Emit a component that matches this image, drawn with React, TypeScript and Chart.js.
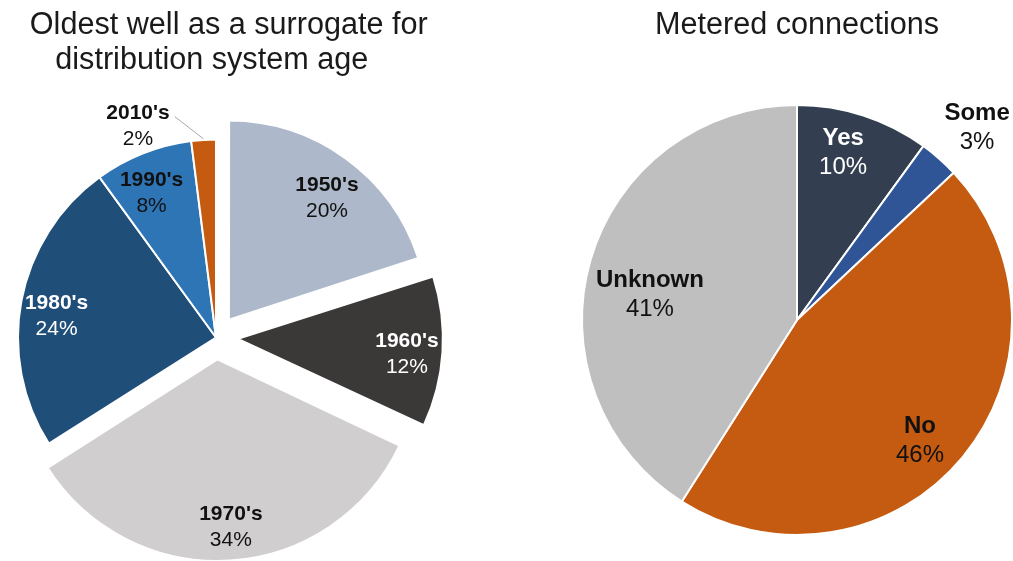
import { useEffect, useRef } from 'react';
import { Chart, registerables } from 'chart.js';

Chart.register(...registerables);

// Oldest well by decade (share of systems, %)
const decadeLabels = ["1950's", "1960's", "1970's", "1980's", "1990's", "2010's"];
const decadeShares = [20, 12, 34, 24, 8, 2];

// Metered connections (share of systems, %)
const meterLabels = ['Yes', 'Some', 'No', 'Unknown'];
const meterShares = [10, 3, 46, 41];

// Styling
const decadeColors = ['#adb9ca', '#3b3838', '#d0cece', '#1f4e79', '#2e75b6', '#c55a11'];
const decadeTextColors = ['#111', '#fff', '#111', '#fff', '#111', '#111'];
const decadeExplode = [88, 88, 88, 0, 0, 0];
const decadeLabelRadius = [0.787, 0.857, 0.849, 0.812, 0.8, 1.136];
const decadeLabelShift = [3, 1.7, -1, -3.3, -2.4, -16.7];
const decadeLeader = [false, false, false, false, false, true];

const meterColors = ['#333f50', '#2f5597', '#c55a11', '#bfbfbf'];
const meterTextColors = ['#fff', '#111', '#111', '#111'];
const meterLabelRadius = [0.808, 1.226, 0.802, 0.694];
const meterLabelShift = [-2.6, 1.7, 4.9, -6.5];
const meterLeader = [false, false, false, false];

const FONT = '"Liberation Sans", Arial, Helvetica, sans-serif';

// Two-line "name / value%" labels placed along each slice's bisector
const sliceLabels = {
  id: 'sliceLabels',
  afterDatasetsDraw(chart: any, _args: any, opts: any) {
    const { ctx } = chart;
    const meta = chart.getDatasetMeta(0);
    const values = chart.data.datasets[0].data as number[];
    const names = chart.data.labels as string[];
    meta.data.forEach((arc: any, i: number) => {
      const { x, y, startAngle, endAngle, outerRadius } = arc.getProps(
        ['x', 'y', 'startAngle', 'endAngle', 'outerRadius'],
        true
      );
      const mid = (startAngle + endAngle) / 2;
      // arcs are shifted by a quarter of their offset option when drawn
      const off = (arc.options.offset || 0) / 4;
      const cx = x + Math.cos(mid) * off;
      const cy = y + Math.sin(mid) * off;
      const a = mid + (opts.shift[i] * Math.PI) / 180;
      const rr = outerRadius * opts.radius[i];
      const lx = cx + Math.cos(a) * rr;
      const ly = cy + Math.sin(a) * rr;
      ctx.save();
      ctx.textAlign = 'center';
      ctx.textBaseline = 'middle';
      ctx.font = `bold ${opts.size}px ${FONT}`;
      const nameW = ctx.measureText(names[i]).width;
      if (opts.leader[i]) {
        ctx.strokeStyle = '#a6a6a6';
        ctx.lineWidth = 1;
        ctx.beginPath();
        ctx.moveTo(cx + Math.cos(mid) * (outerRadius + 1), cy + Math.sin(mid) * (outerRadius + 1));
        ctx.lineTo(lx + nameW / 2 + 5, ly - opts.gap / 2 + 3);
        ctx.stroke();
      }
      ctx.fillStyle = opts.colors[i];
      ctx.fillText(names[i], lx, ly - opts.gap / 2);
      ctx.font = `${opts.size}px ${FONT}`;
      ctx.fillText(`${values[i]}%`, lx, ly + opts.gap / 2);
      ctx.restore();
    });
  },
};

function PieCanvas({ config, width, height }: { config: any; width: number; height: number }) {
  const ref = useRef<HTMLCanvasElement>(null);
  useEffect(() => {
    if (!ref.current) return;
    const chart = new Chart(ref.current, config);
    return () => chart.destroy();
  }, [config]);
  return <canvas ref={ref} width={width} height={height} style={{ display: 'block' }} />;
}

const titleFont = { family: FONT, size: 30.6, weight: 'normal', lineHeight: 35 / 30.6 };

const wellConfig = {
  type: 'pie',
  data: {
    labels: decadeLabels,
    datasets: [
      {
        data: decadeShares,
        backgroundColor: decadeColors,
        borderColor: '#ffffff',
        borderWidth: 2,
        offset: decadeExplode,
      },
    ],
  },
  options: {
    responsive: false,
    animation: false,
    radius: 198,
    layout: { padding: { left: 0, right: 38, top: 0, bottom: 0 } },
    plugins: {
      legend: { display: false },
      tooltip: { enabled: false },
      title: {
        display: true,
        text: ['\u00a0\u00a0\u00a0Oldest well as a surrogate for', 'distribution system age\u00a0'],
        color: '#1a1a1a',
        font: titleFont,
        padding: { top: 8.5, bottom: 35.5 },
      },
      sliceLabels: {
        colors: decadeTextColors,
        radius: decadeLabelRadius,
        shift: decadeLabelShift,
        leader: decadeLeader,
        size: 21,
        gap: 26,
      },
    },
  },
  plugins: [sliceLabels],
};

const meterConfig = {
  type: 'pie',
  data: {
    labels: meterLabels,
    datasets: [
      {
        data: meterShares,
        backgroundColor: meterColors,
        borderColor: '#ffffff',
        borderWidth: 2,
      },
    ],
  },
  options: {
    responsive: false,
    animation: false,
    radius: 215,
    layout: { padding: { left: 4, right: 0, top: 0, bottom: 0 } },
    plugins: {
      legend: { display: false },
      tooltip: { enabled: false },
      title: {
        display: true,
        text: 'Metered connections',
        color: '#1a1a1a',
        font: titleFont,
        padding: { top: 8.5, bottom: 35.5 },
      },
      sliceLabels: {
        colors: meterTextColors,
        radius: meterLabelRadius,
        shift: meterLabelShift,
        leader: meterLeader,
        size: 24,
        gap: 29,
      },
    },
  },
  plugins: [sliceLabels],
};

export default function App() {
  return (
    <div
      style={{
        position: 'fixed',
        left: 0,
        top: 0,
        width: 1013,
        height: 561,
        background: '#ffffff',
        overflow: 'hidden',
      }}
    >
      <div style={{ position: 'absolute', left: 0, top: 0 }}>
        <PieCanvas config={wellConfig} width={470} height={561} />
      </div>
      <div style={{ position: 'absolute', left: 577, top: 0 }}>
        <PieCanvas config={meterConfig} width={436} height={561} />
      </div>
    </div>
  );
}
